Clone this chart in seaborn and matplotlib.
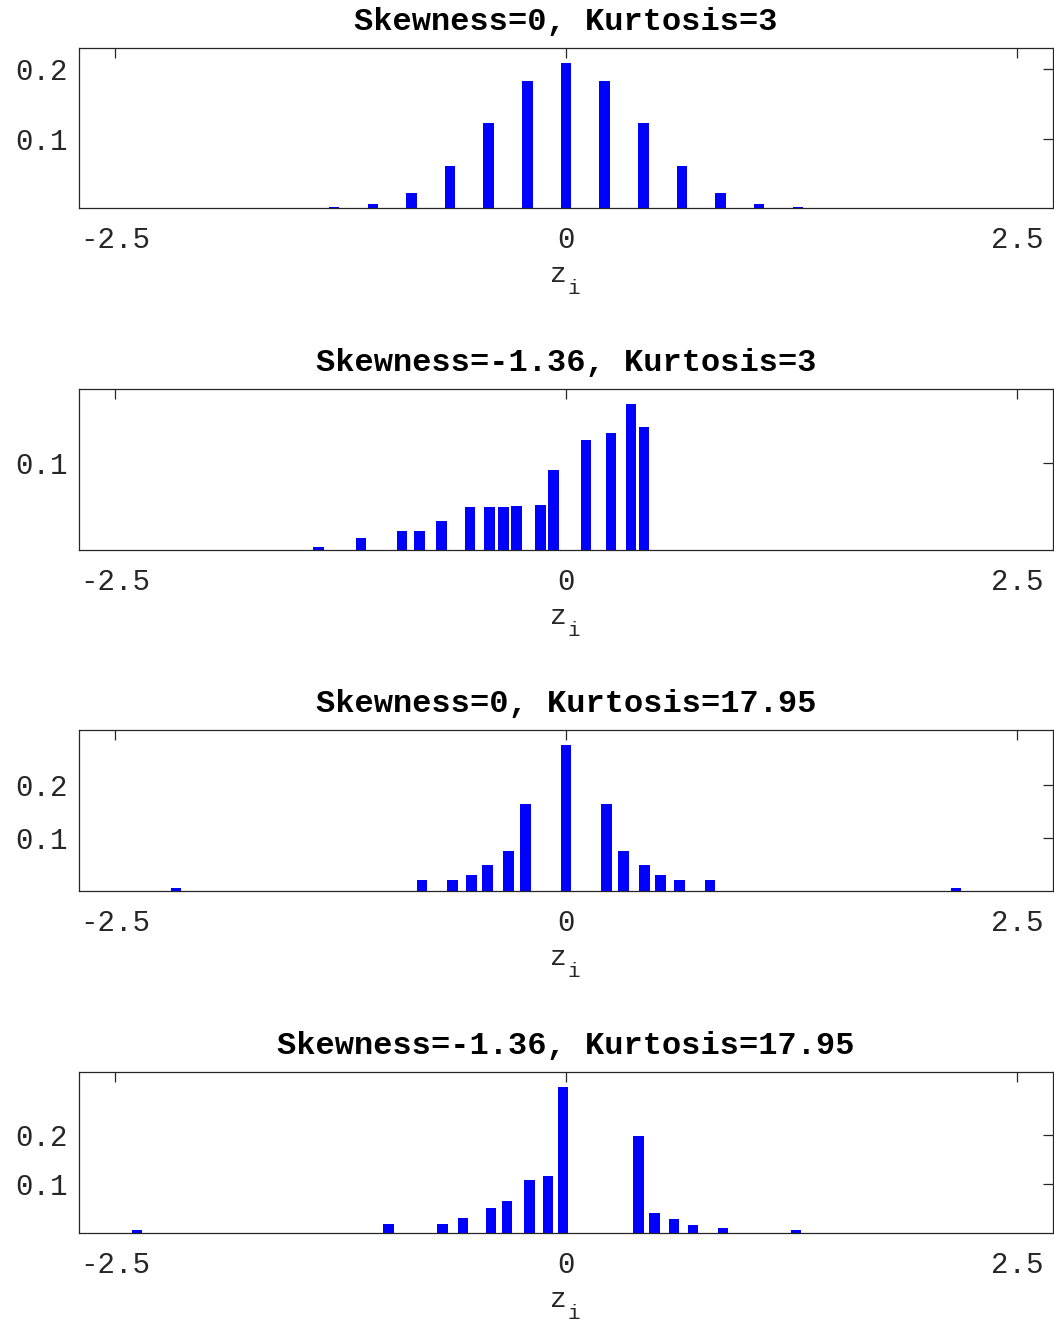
import numpy as np
import pandas as pd
import matplotlib
matplotlib.use("Agg")
import matplotlib.pyplot as plt
import seaborn as sns

# Probability mass at each standardized value z_i, one distribution per panel
titles = [
    "Skewness=0, Kurtosis=3",
    "Skewness=-1.36, Kurtosis=3",
    "Skewness=0, Kurtosis=17.95",
    "Skewness=-1.36, Kurtosis=17.95",
]

z1 = [-1.5, -1.2857, -1.0714, -0.8571, -0.6429, -0.4286, -0.2143, 0.0,
      0.2143, 0.4286, 0.6429, 0.8571, 1.0714, 1.2857, 1.5]
p1 = [0.00006, 0.00085, 0.0056, 0.0222, 0.0611, 0.1222, 0.1833, 0.2095,
      0.1833, 0.1222, 0.0611, 0.0222, 0.0056, 0.00085, 0.00006]

z2 = [-1.372, -1.136, -0.910, -0.813, -0.691, -0.532, -0.424, -0.347,
      -0.274, -0.142, -0.069, 0.111, 0.250, 0.361, 0.431]
p2 = [0.003, 0.0134, 0.0214, 0.0214, 0.0336, 0.0492, 0.0492, 0.0492,
      0.0504, 0.0519, 0.0927, 0.1267, 0.1355, 0.169, 0.1424]

z3 = [-2.163, -0.797, -0.630, -0.523, -0.434, -0.320, -0.224, 0.0,
      0.224, 0.320, 0.434, 0.523, 0.630, 0.797, 2.163]
p3 = [0.005, 0.021, 0.021, 0.030, 0.0495, 0.0765, 0.165, 0.277,
      0.165, 0.0765, 0.0495, 0.030, 0.021, 0.021, 0.005]

z4 = [-2.377, -0.983, -0.684, -0.570, -0.416, -0.327, -0.202, -0.101,
      -0.017, 0.403, 0.490, 0.598, 0.705, 0.869, 1.275]
p4 = [0.0054, 0.0182, 0.0182, 0.0297, 0.0514, 0.0662, 0.1074, 0.1169,
      0.2986, 0.1986, 0.0405, 0.0277, 0.0169, 0.0108, 0.0054]

x_ticks = [-2.5, 0, 2.5]
x_tick_labels = ["-2.5", "0", "2.5"]
y_ticks = [[0.1, 0.2], [0.1], [0.1, 0.2], [0.1, 0.2]]

series = [(z1, p1), (z2, p2), (z3, p3), (z4, p4)]

sns.set_theme(style="white")
plt.rcParams["font.family"] = ["Liberation Mono", "DejaVu Sans"]

W, H = 1054, 1321
fig = plt.figure(figsize=(W / 100, H / 100), dpi=100, facecolor="white")

panel_px = [(48, 208), (389, 550), (730, 891), (1072, 1233)]
left_px, right_px = 79, 1053
bar_w = 0.058
axis_col = "#262626"

for (top, bot), (z, p), title, yt in zip(panel_px, series, titles, y_ticks):
    ax = fig.add_axes([left_px / W, 1 - bot / H, (right_px - left_px) / W, (bot - top) / H])
    df = pd.DataFrame({"z": z, "p": p})
    min_gap = np.min(np.diff(np.sort(df["z"].to_numpy())))
    sns.barplot(data=df, x="z", y="p", native_scale=True, width=bar_w / min_gap,
                color="#0000ff", saturation=1, errorbar=None, linewidth=0, ax=ax)
    ax.set_xlim(-2.7, 2.7)
    ax.set_ylim(0, max(p) * 1.1)
    ax.set_xticks(x_ticks)
    ax.set_xticklabels(x_tick_labels)
    ax.set_yticks(yt)
    ax.set_yticklabels([f"{v:.1f}" for v in yt])
    ax.tick_params(direction="in", top=True, right=True, length=7.5, width=0.9,
                   color=axis_col, labelcolor=axis_col, labelsize=21)
    ax.tick_params(axis="x", pad=13)
    ax.tick_params(axis="y", pad=8)
    for s in ax.spines.values():
        s.set_color(axis_col)
        s.set_linewidth(0.9)
        s.set_visible(True)
    ax.set_title(title, fontsize=23, fontweight="bold", color="black", pad=13)
    # x label "z" with a lowered subscript "i" just to its right
    ax.set_xlabel("z", fontsize=20, color=axis_col, labelpad=6)
    ax.xaxis.label.set_x(0.4918)
    ax.set_ylabel("")
    ax.annotate("i", xy=(1, 0), xycoords=ax.xaxis.label, xytext=(0.5, -4),
                textcoords="offset points", ha="left", va="baseline",
                fontsize=15, color=axis_col)

fig.savefig("out.png", dpi=100, facecolor="white")
